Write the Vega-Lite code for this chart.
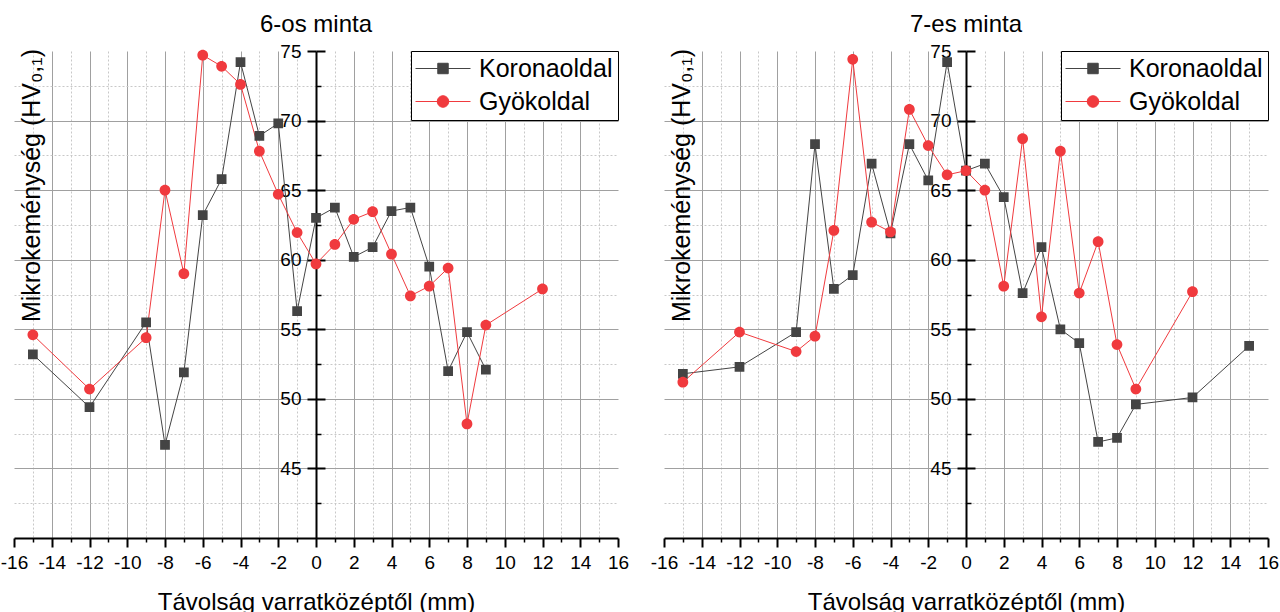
{
  "$schema": "https://vega.github.io/schema/vega-lite/v6.json",
  "padding": {"left": 0, "top": 13, "right": 0, "bottom": 0},
  "config": {
    "font": "Liberation Sans",
    "view": {"stroke": null},
    "axis": {"labelFont": "Liberation Sans", "titleFont": "Liberation Sans"},
    "title": {"font": "Liberation Sans", "color": "black"},
    "legend": {"orient": "top-right", "offset": 0, "title": null, "padding": 5, "strokeColor": "black", "fillColor": "white", "cornerRadius": 0, "labelFontSize": 25, "labelColor": "black", "labelFont": "Liberation Sans", "symbolSize": 121, "symbolOffset": 14.5, "labelOffset": 23.5, "rowPadding": 7, "symbolStrokeWidth": 1, "symbolOpacity": 1}
  },
  "datasets": {
    "p6": [
      {"x": -15, "hv": 53.2, "side": "Koronaoldal"},
      {"x": -12, "hv": 49.4, "side": "Koronaoldal"},
      {"x": -9, "hv": 55.5, "side": "Koronaoldal"},
      {"x": -8, "hv": 46.7, "side": "Koronaoldal"},
      {"x": -7, "hv": 51.9, "side": "Koronaoldal"},
      {"x": -6, "hv": 63.2, "side": "Koronaoldal"},
      {"x": -5, "hv": 65.8, "side": "Koronaoldal"},
      {"x": -4, "hv": 74.2, "side": "Koronaoldal"},
      {"x": -3, "hv": 68.9, "side": "Koronaoldal"},
      {"x": -2, "hv": 69.8, "side": "Koronaoldal"},
      {"x": -1, "hv": 56.3, "side": "Koronaoldal"},
      {"x": 0, "hv": 63.0, "side": "Koronaoldal"},
      {"x": 1, "hv": 63.75, "side": "Koronaoldal"},
      {"x": 2, "hv": 60.2, "side": "Koronaoldal"},
      {"x": 3, "hv": 60.9, "side": "Koronaoldal"},
      {"x": 4, "hv": 63.5, "side": "Koronaoldal"},
      {"x": 5, "hv": 63.75, "side": "Koronaoldal"},
      {"x": 6, "hv": 59.5, "side": "Koronaoldal"},
      {"x": 7, "hv": 52.0, "side": "Koronaoldal"},
      {"x": 8, "hv": 54.8, "side": "Koronaoldal"},
      {"x": 9, "hv": 52.1, "side": "Koronaoldal"},
      {"x": -15, "hv": 54.6, "side": "Gyökoldal"},
      {"x": -12, "hv": 50.7, "side": "Gyökoldal"},
      {"x": -9, "hv": 54.4, "side": "Gyökoldal"},
      {"x": -8, "hv": 65.0, "side": "Gyökoldal"},
      {"x": -7, "hv": 59.0, "side": "Gyökoldal"},
      {"x": -6, "hv": 74.7, "side": "Gyökoldal"},
      {"x": -5, "hv": 73.9, "side": "Gyökoldal"},
      {"x": -4, "hv": 72.6, "side": "Gyökoldal"},
      {"x": -3, "hv": 67.8, "side": "Gyökoldal"},
      {"x": -2, "hv": 64.7, "side": "Gyökoldal"},
      {"x": -1, "hv": 61.95, "side": "Gyökoldal"},
      {"x": 0, "hv": 59.7, "side": "Gyökoldal"},
      {"x": 1, "hv": 61.1, "side": "Gyökoldal"},
      {"x": 2, "hv": 62.9, "side": "Gyökoldal"},
      {"x": 3, "hv": 63.45, "side": "Gyökoldal"},
      {"x": 4, "hv": 60.4, "side": "Gyökoldal"},
      {"x": 5, "hv": 57.4, "side": "Gyökoldal"},
      {"x": 6, "hv": 58.1, "side": "Gyökoldal"},
      {"x": 7, "hv": 59.4, "side": "Gyökoldal"},
      {"x": 8, "hv": 48.2, "side": "Gyökoldal"},
      {"x": 9, "hv": 55.3, "side": "Gyökoldal"},
      {"x": 12, "hv": 57.9, "side": "Gyökoldal"}
    ],
    "p7": [
      {"x": -15, "hv": 51.8, "side": "Koronaoldal"},
      {"x": -12, "hv": 52.3, "side": "Koronaoldal"},
      {"x": -9, "hv": 54.8, "side": "Koronaoldal"},
      {"x": -8, "hv": 68.3, "side": "Koronaoldal"},
      {"x": -7, "hv": 57.9, "side": "Koronaoldal"},
      {"x": -6, "hv": 58.9, "side": "Koronaoldal"},
      {"x": -5, "hv": 66.9, "side": "Koronaoldal"},
      {"x": -4, "hv": 61.9, "side": "Koronaoldal"},
      {"x": -3, "hv": 68.3, "side": "Koronaoldal"},
      {"x": -2, "hv": 65.7, "side": "Koronaoldal"},
      {"x": -1, "hv": 74.2, "side": "Koronaoldal"},
      {"x": 0, "hv": 66.4, "side": "Koronaoldal"},
      {"x": 1, "hv": 66.9, "side": "Koronaoldal"},
      {"x": 2, "hv": 64.5, "side": "Koronaoldal"},
      {"x": 3, "hv": 57.6, "side": "Koronaoldal"},
      {"x": 4, "hv": 60.9, "side": "Koronaoldal"},
      {"x": 5, "hv": 55.0, "side": "Koronaoldal"},
      {"x": 6, "hv": 54.0, "side": "Koronaoldal"},
      {"x": 7, "hv": 46.9, "side": "Koronaoldal"},
      {"x": 8, "hv": 47.2, "side": "Koronaoldal"},
      {"x": 9, "hv": 49.6, "side": "Koronaoldal"},
      {"x": 12, "hv": 50.1, "side": "Koronaoldal"},
      {"x": 15, "hv": 53.8, "side": "Koronaoldal"},
      {"x": -15, "hv": 51.2, "side": "Gyökoldal"},
      {"x": -12, "hv": 54.8, "side": "Gyökoldal"},
      {"x": -9, "hv": 53.4, "side": "Gyökoldal"},
      {"x": -8, "hv": 54.5, "side": "Gyökoldal"},
      {"x": -7, "hv": 62.1, "side": "Gyökoldal"},
      {"x": -6, "hv": 74.4, "side": "Gyökoldal"},
      {"x": -5, "hv": 62.7, "side": "Gyökoldal"},
      {"x": -4, "hv": 62.0, "side": "Gyökoldal"},
      {"x": -3, "hv": 70.8, "side": "Gyökoldal"},
      {"x": -2, "hv": 68.2, "side": "Gyökoldal"},
      {"x": -1, "hv": 66.1, "side": "Gyökoldal"},
      {"x": 0, "hv": 66.4, "side": "Gyökoldal"},
      {"x": 1, "hv": 65.0, "side": "Gyökoldal"},
      {"x": 2, "hv": 58.1, "side": "Gyökoldal"},
      {"x": 3, "hv": 68.7, "side": "Gyökoldal"},
      {"x": 4, "hv": 55.9, "side": "Gyökoldal"},
      {"x": 5, "hv": 67.8, "side": "Gyökoldal"},
      {"x": 6, "hv": 57.6, "side": "Gyökoldal"},
      {"x": 7, "hv": 61.3, "side": "Gyökoldal"},
      {"x": 8, "hv": 53.9, "side": "Gyökoldal"},
      {"x": 9, "hv": 50.7, "side": "Gyökoldal"},
      {"x": 12, "hv": 57.7, "side": "Gyökoldal"}
    ]
  },
  "spacing": 46,
  "bounds": "flush",
  "resolve": {"scale": {"color": "independent", "shape": "independent"}, "legend": {"color": "independent", "shape": "independent"}},
  "hconcat": [
    {
      "width": 604,
      "height": 487,
      "title": {"text": "6-os minta", "fontSize": 24, "fontWeight": "normal", "frame": "group", "baseline": "alphabetic", "offset": -14, "anchor": "middle"},
      "data": {"name": "p6"},
      "resolve": {"axis": {"x": "independent", "y": "independent"}},
      "layer": [
        {
          "mark": {"type": "line", "strokeWidth": 1},
          "encoding": {
            "x": {"field": "x", "type": "quantitative", "scale": {"domain": [-16, 16], "nice": false, "zero": false},
              "axis": {"orient": "bottom", "values": [-16, -14, -12, -10, -8, -6, -4, -2, 0, 2, 4, 6, 8, 10, 12, 14, 16], "labelExpr": "'' + datum.value", "grid": false, "domainColor": "black", "domainWidth": 2, "tickColor": "black", "tickWidth": 2, "tickSize": 9, "labelFontSize": 19, "labelPadding": 6, "labelColor": "black", "labelFlush": false, "labelOverlap": false, "title": "Távolság varratközéptől (mm)", "titleFontSize": 24, "titleFontWeight": "normal", "titleColor": "black", "titleY": 71, "titleBaseline": "alphabetic"}},
            "y": {"field": "hv", "type": "quantitative", "scale": {"domain": [40, 75], "nice": false, "zero": false},
              "axis": {"orient": "left", "offset": -302, "values": [45, 50, 55, 60, 65, 70, 75], "grid": false, "domainColor": "black", "domainWidth": 2, "tickColor": "black", "tickWidth": 2, "tickSize": 9, "labelFontSize": 19, "labelPadding": 6, "labelColor": "black", "title": "Mikrokeménység (HV₀,₁)", "titleFontSize": 25, "titleFontWeight": "normal", "titleColor": "black", "titleX": -285, "titleY": 134, "titleAngle": 270, "titleBaseline": "middle", "titleAlign": "center"}},
            "color": {"field": "side", "type": "nominal", "scale": {"domain": ["Koronaoldal", "Gyökoldal"], "range": ["#444444", "#f03a3e"]}, "legend": {"orient": "top-right", "title": null}}
          }
        },
        {
          "mark": {"type": "point", "filled": true, "opacity": 1, "size": 105},
          "encoding": {
            "x": {"field": "x", "type": "quantitative", "axis": {"orient": "bottom", "values": [-14, -12, -10, -8, -6, -4, -2, 2, 4, 6, 8, 10, 12, 14], "grid": true, "gridColor": "#a0a0a0", "gridWidth": 1, "labels": false, "ticks": false, "domain": false, "title": null}},
            "y": {"field": "hv", "type": "quantitative", "axis": {"orient": "left", "offset": -302, "values": [45, 50, 55, 60, 65, 70, 75], "grid": false, "labels": false, "ticks": true, "tickSize": -9, "tickWidth": 2, "tickColor": "black", "domain": false, "title": null}},
            "color": {"field": "side", "type": "nominal", "legend": {"orient": "top-right", "title": null}},
            "shape": {"field": "side", "type": "nominal", "scale": {"domain": ["Koronaoldal", "Gyökoldal"], "range": ["M-5,0H5M-0.95,-0.95H0.95V0.95H-0.95Z", "M-5,0H5M-1.05,0A1.05,1.05 0 1,0 1.05,0A1.05,1.05 0 1,0 -1.05,0Z"]}, "legend": null}
          }
        },
        {
          "mark": {"type": "point", "opacity": 0},
          "encoding": {
            "x": {"field": "x", "type": "quantitative", "axis": {"orient": "bottom", "values": [-15, -13, -11, -9, -7, -5, -3, -1, 1, 3, 5, 7, 9, 11, 13, 15], "grid": true, "gridColor": "#c8c8c8", "gridDash": [2, 2], "gridWidth": 1, "labels": false, "ticks": true, "tickSize": 4, "tickWidth": 1.5, "tickColor": "black", "domain": false, "title": null}},
            "y": {"field": "hv", "type": "quantitative", "axis": {"orient": "left", "values": [45, 50, 55, 60, 65, 70], "grid": true, "gridColor": "#a0a0a0", "gridWidth": 1, "labels": false, "ticks": false, "domain": false, "title": null}}
          }
        },
        {
          "mark": {"type": "point", "opacity": 0},
          "encoding": {
            "x": {"field": "x", "type": "quantitative", "axis": null},
            "y": {"field": "hv", "type": "quantitative", "axis": {"orient": "left", "offset": -302, "values": [42.5, 47.5, 52.5, 57.5, 62.5, 67.5, 72.5], "grid": true, "gridColor": "#c8c8c8", "gridDash": [2, 2], "gridWidth": 1, "labels": false, "ticks": true, "tickSize": -5, "tickWidth": 1.5, "tickColor": "black", "domain": false, "title": null}}
          }
        }
      ]
    },
    {
      "width": 604,
      "height": 487,
      "title": {"text": "7-es minta", "fontSize": 24, "fontWeight": "normal", "frame": "group", "baseline": "alphabetic", "offset": -14, "anchor": "middle"},
      "data": {"name": "p7"},
      "resolve": {"axis": {"x": "independent", "y": "independent"}},
      "layer": [
        {
          "mark": {"type": "line", "strokeWidth": 1},
          "encoding": {
            "x": {"field": "x", "type": "quantitative", "scale": {"domain": [-16, 16], "nice": false, "zero": false},
              "axis": {"orient": "bottom", "values": [-16, -14, -12, -10, -8, -6, -4, -2, 0, 2, 4, 6, 8, 10, 12, 14, 16], "labelExpr": "'' + datum.value", "grid": false, "domainColor": "black", "domainWidth": 2, "tickColor": "black", "tickWidth": 2, "tickSize": 9, "labelFontSize": 19, "labelPadding": 6, "labelColor": "black", "labelFlush": false, "labelOverlap": false, "title": "Távolság varratközéptől (mm)", "titleFontSize": 24, "titleFontWeight": "normal", "titleColor": "black", "titleY": 71, "titleBaseline": "alphabetic"}},
            "y": {"field": "hv", "type": "quantitative", "scale": {"domain": [40, 75], "nice": false, "zero": false},
              "axis": {"orient": "left", "offset": -302, "values": [45, 50, 55, 60, 65, 70, 75], "grid": false, "domainColor": "black", "domainWidth": 2, "tickColor": "black", "tickWidth": 2, "tickSize": 9, "labelFontSize": 19, "labelPadding": 6, "labelColor": "black", "title": "Mikrokeménység (HV₀,₁)", "titleFontSize": 25, "titleFontWeight": "normal", "titleColor": "black", "titleX": -285, "titleY": 134, "titleAngle": 270, "titleBaseline": "middle", "titleAlign": "center"}},
            "color": {"field": "side", "type": "nominal", "scale": {"domain": ["Koronaoldal", "Gyökoldal"], "range": ["#444444", "#f03a3e"]}, "legend": {"orient": "top-right", "title": null}}
          }
        },
        {
          "mark": {"type": "point", "filled": true, "opacity": 1, "size": 105},
          "encoding": {
            "x": {"field": "x", "type": "quantitative", "axis": {"orient": "bottom", "values": [-14, -12, -10, -8, -6, -4, -2, 2, 4, 6, 8, 10, 12, 14], "grid": true, "gridColor": "#a0a0a0", "gridWidth": 1, "labels": false, "ticks": false, "domain": false, "title": null}},
            "y": {"field": "hv", "type": "quantitative", "axis": {"orient": "left", "offset": -302, "values": [45, 50, 55, 60, 65, 70, 75], "grid": false, "labels": false, "ticks": true, "tickSize": -9, "tickWidth": 2, "tickColor": "black", "domain": false, "title": null}},
            "color": {"field": "side", "type": "nominal", "legend": {"orient": "top-right", "title": null}},
            "shape": {"field": "side", "type": "nominal", "scale": {"domain": ["Koronaoldal", "Gyökoldal"], "range": ["M-5,0H5M-0.95,-0.95H0.95V0.95H-0.95Z", "M-5,0H5M-1.05,0A1.05,1.05 0 1,0 1.05,0A1.05,1.05 0 1,0 -1.05,0Z"]}, "legend": null}
          }
        },
        {
          "mark": {"type": "point", "opacity": 0},
          "encoding": {
            "x": {"field": "x", "type": "quantitative", "axis": {"orient": "bottom", "values": [-15, -13, -11, -9, -7, -5, -3, -1, 1, 3, 5, 7, 9, 11, 13, 15], "grid": true, "gridColor": "#c8c8c8", "gridDash": [2, 2], "gridWidth": 1, "labels": false, "ticks": true, "tickSize": 4, "tickWidth": 1.5, "tickColor": "black", "domain": false, "title": null}},
            "y": {"field": "hv", "type": "quantitative", "axis": {"orient": "left", "values": [45, 50, 55, 60, 65, 70], "grid": true, "gridColor": "#a0a0a0", "gridWidth": 1, "labels": false, "ticks": false, "domain": false, "title": null}}
          }
        },
        {
          "mark": {"type": "point", "opacity": 0},
          "encoding": {
            "x": {"field": "x", "type": "quantitative", "axis": null},
            "y": {"field": "hv", "type": "quantitative", "axis": {"orient": "left", "offset": -302, "values": [42.5, 47.5, 52.5, 57.5, 62.5, 67.5, 72.5], "grid": true, "gridColor": "#c8c8c8", "gridDash": [2, 2], "gridWidth": 1, "labels": false, "ticks": true, "tickSize": -5, "tickWidth": 1.5, "tickColor": "black", "domain": false, "title": null}}
          }
        }
      ]
    }
  ]
}
